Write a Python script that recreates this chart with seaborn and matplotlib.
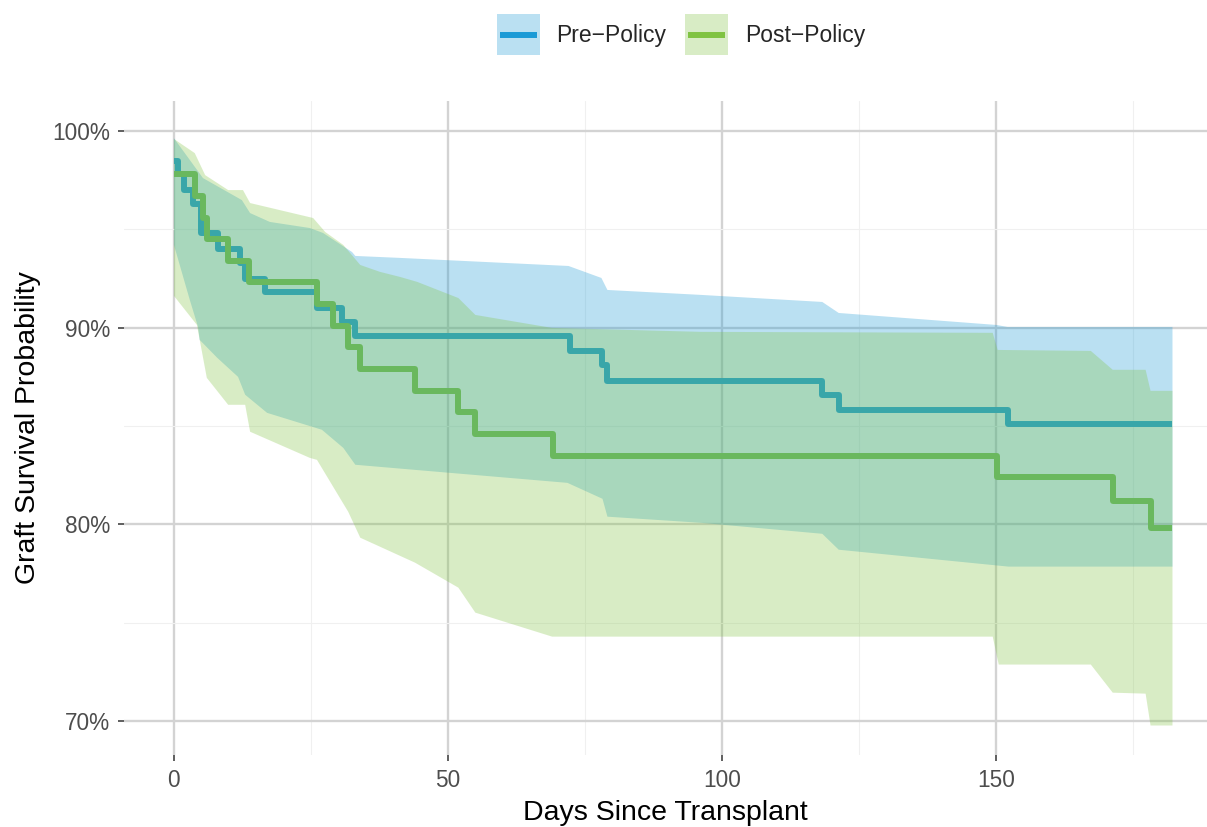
import numpy as np
import pandas as pd
import matplotlib
matplotlib.use("Agg")
import matplotlib.pyplot as plt
import seaborn as sns
from matplotlib.patches import Rectangle
from matplotlib.lines import Line2D
from matplotlib.legend_handler import HandlerBase
from matplotlib.ticker import FixedLocator, FuncFormatter

# ---- Kaplan-Meier estimates (survival in %) ----
pre_days = [0, 0.7, 1.8, 3.5, 5.0, 8.0, 12.0, 13.0, 16.6, 26.1, 30.7, 33.0,
            72.2, 78.1, 79.1, 118.3, 121.3, 152.1, 182.2]
pre_surv = [98.5, 97.8, 97.0, 96.3, 94.8, 94.0, 93.3, 92.5, 91.8, 91.0, 90.3,
            89.6, 88.8, 88.1, 87.3, 86.6, 85.8, 85.1, 85.1]

post_days = [0, 3.9, 5.3, 6.0, 9.9, 13.7, 26.1, 29.0, 31.8, 34.0, 44.0, 51.9,
             55.0, 69.2, 150.2, 171.3, 178.2, 182.2]
post_surv = [97.8, 96.7, 95.6, 94.5, 93.4, 92.3, 91.2, 90.1, 89.0, 87.9, 86.8,
             85.7, 84.6, 83.5, 82.4, 81.2, 79.8, 79.8]

# ---- 95% confidence bands ----
pre_upper_days = [0, 2.9, 5.3, 12.4, 13.9, 17.5, 24.8, 27.2, 32.5, 33.1, 41.3,
                  72.0, 78.0, 79.1, 96.1, 118.3, 121.3, 150.1, 152.1, 182.2]
pre_upper = [99.64, 98.53, 97.61, 96.49, 95.83, 95.38, 95.07, 94.82, 93.85,
             93.65, 93.55, 93.14, 92.53, 91.92, 91.67, 91.31, 90.75, 90.14,
             90.04, 90.04]
pre_lower_days = [0, 2.9, 4.4, 4.7, 7.9, 11.7, 13.0, 17.0, 27.0, 30.9, 33.1,
                  44.0, 71.8, 78.2, 79.1, 96.1, 118.3, 121.3, 152.3, 182.2]
pre_lower = [94.21, 91.41, 90.04, 89.38, 88.47, 87.50, 86.59, 85.67, 84.81,
             83.89, 83.03, 82.77, 82.11, 81.30, 80.39, 80.08, 79.52, 78.71,
             77.85, 77.85]

post_upper_days = [0, 3.8, 5.7, 9.9, 12.6, 13.9, 25.4, 27.6, 30.9, 34.0, 37.6,
                   41.3, 44.4, 51.9, 55.0, 69.0, 96.1, 149.4, 150.3, 167.3,
                   171.3, 177.3, 178.2, 182.2]
post_upper = [99.60, 98.88, 97.76, 97.00, 97.00, 96.34, 95.58, 94.87, 94.21,
              93.19, 92.84, 92.58, 92.33, 91.51, 90.65, 89.99, 89.79, 89.74,
              88.87, 88.82, 87.86, 87.86, 86.79, 86.79]
post_lower_days = [0, 4.2, 6.0, 9.9, 13.0, 13.9, 24.8, 26.1, 31.8, 34.0, 44.0,
                   51.9, 55.0, 69.0, 96.1, 149.4, 150.5, 167.3, 171.3, 177.3,
                   178.2, 182.2]
post_lower = [91.62, 90.14, 87.45, 86.08, 86.08, 84.71, 83.38, 83.28, 80.64,
              79.32, 78.05, 76.78, 75.51, 74.29, 74.29, 74.29, 72.87, 72.87,
              71.44, 71.39, 69.77, 69.77]

groups = ["Pre\u2212Policy", "Post\u2212Policy"]
band_colors = ["#1B9AD6", "#80C342"]
line_colors = ["#1B9AD6", "#6AB85E"]
key_line_colors = ["#1B9AD6", "#80C342"]


class BandKey:
    """Legend key: a translucent filled square with a line across its middle."""
    def __init__(self, color, line_color):
        self.color = color
        self.line_color = line_color


class BandKeyHandler(HandlerBase):
    def create_artists(self, legend, orig_handle, xdescent, ydescent,
                       width, height, fontsize, trans):
        rect = Rectangle((-xdescent, -ydescent), width, height,
                         facecolor=orig_handle.color, alpha=0.3, lw=0,
                         transform=trans)
        yc = -ydescent + height / 2
        pad = width * 0.07
        line = Line2D([-xdescent + pad, -xdescent + width - pad], [yc, yc],
                      color=orig_handle.line_color, lw=4.3,
                      solid_capstyle="butt", transform=trans)
        return [rect, line]


sns.set_theme(style="white")
plt.rcParams["font.family"] = ["Liberation Sans", "DejaVu Sans"]

fig = plt.figure(figsize=(12.07, 8.27), dpi=100)
ax = fig.add_axes([124 / 1207, 72 / 827, 1083 / 1207, 654 / 827])

series = [
    (pre_days, pre_surv, pre_upper_days, pre_upper, pre_lower_days, pre_lower),
    (post_days, post_surv, post_upper_days, post_upper, post_lower_days, post_lower),
]

z = 1
for i, (d, s, ud, u, ld, lo) in enumerate(series):
    # confidence ribbon as a polygon: upper edge forward, lower edge back
    ax.fill(np.r_[ud, ld[::-1]], np.r_[u, lo[::-1]],
            color=band_colors[i], alpha=0.3, lw=0, zorder=z)
    df = pd.DataFrame({"days": d, "surv": s})
    sns.lineplot(data=df, x="days", y="surv", ax=ax, color=line_colors[i],
                 lw=4.3, drawstyle="steps-post", estimator=None, sort=False,
                 solid_joinstyle="round", solid_capstyle="butt", zorder=z + 1)
    z += 2

ax.set_xlim(-9.11, 188.5)
ax.set_ylim(68.27, 101.53)

ax.xaxis.set_major_locator(FixedLocator([0, 50, 100, 150]))
ax.xaxis.set_minor_locator(FixedLocator([25, 75, 125, 175]))
ax.yaxis.set_major_locator(FixedLocator([70, 80, 90, 100]))
ax.yaxis.set_minor_locator(FixedLocator([75, 85, 95]))
ax.yaxis.set_major_formatter(FuncFormatter(lambda v, p: f"{v:.0f}%"))

ax.set_facecolor("white")
ax.set_axisbelow(True)
ax.grid(which="major", color="#D3D3D3", lw=1.7)
ax.grid(which="minor", color="#F0F0F0", lw=0.8)
for sp in ax.spines.values():
    sp.set_visible(False)

ax.tick_params(axis="both", which="major", length=4.3, width=1.1,
               color="#333333", labelcolor="#4D4D4D", labelsize=16.3, pad=5.5,
               bottom=True, left=True)
ax.tick_params(axis="both", which="minor", length=0)

ax.set_xlabel("Days Since Transplant", fontsize=20.5, color="black", labelpad=6)
ax.set_ylabel("Graft Survival Probability", fontsize=20.5, color="black",
              labelpad=8)

keys = [BandKey(band_colors[i], key_line_colors[i]) for i in range(2)]
fig.legend(keys, groups, loc="center", bbox_to_anchor=(0.564, 0.958),
           ncol=2, frameon=False, fontsize=16.5, handlelength=1.88,
           handleheight=2.38, handletextpad=0.74, columnspacing=0.79,
           borderpad=0, handler_map={BandKey: BandKeyHandler()})

fig.savefig("out.png", dpi=100, facecolor="white")
